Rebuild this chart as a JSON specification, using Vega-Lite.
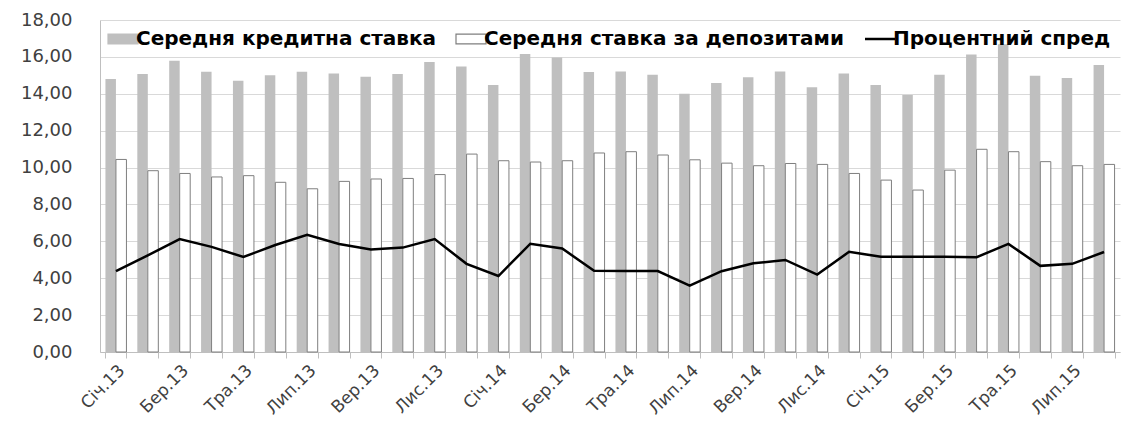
{
  "$schema": "https://vega.github.io/schema/vega-lite/v6.json",
  "width": 1020,
  "height": 332,
  "autosize": {"type": "none"},
  "padding": {"left": 100, "top": 20, "right": 16, "bottom": 74},
  "background": "white",
  "config": {
    "view": {"stroke": null},
    "font": "DejaVu Sans",
    "locale": {"number": {"decimal": ",", "thousands": " ", "grouping": [3], "currency": ["", ""]}}
  },
  "data": {"values": [
      {"month": "Січ.13", "series": "Середня кредитна ставка", "value": 14.8},
      {"month": "Січ.13", "series": "Середня ставка за депозитами", "value": 10.44},
      {"month": "Січ.13", "series": "Процентний спред", "value": 4.38},
      {"month": "Лют.13", "series": "Середня кредитна ставка", "value": 15.07},
      {"month": "Лют.13", "series": "Середня ставка за депозитами", "value": 9.83},
      {"month": "Лют.13", "series": "Процентний спред", "value": 5.24},
      {"month": "Бер.13", "series": "Середня кредитна ставка", "value": 15.79},
      {"month": "Бер.13", "series": "Середня ставка за депозитами", "value": 9.68},
      {"month": "Бер.13", "series": "Процентний спред", "value": 6.12},
      {"month": "Кві.13", "series": "Середня кредитна ставка", "value": 15.19},
      {"month": "Кві.13", "series": "Середня ставка за депозитами", "value": 9.49},
      {"month": "Кві.13", "series": "Процентний спред", "value": 5.7},
      {"month": "Тра.13", "series": "Середня кредитна ставка", "value": 14.7},
      {"month": "Тра.13", "series": "Середня ставка за депозитами", "value": 9.56},
      {"month": "Тра.13", "series": "Процентний спред", "value": 5.15},
      {"month": "Чер.13", "series": "Середня кредитна ставка", "value": 15.01},
      {"month": "Чер.13", "series": "Середня ставка за депозитами", "value": 9.2},
      {"month": "Чер.13", "series": "Процентний спред", "value": 5.8},
      {"month": "Лип.13", "series": "Середня кредитна ставка", "value": 15.19},
      {"month": "Лип.13", "series": "Середня ставка за депозитами", "value": 8.85},
      {"month": "Лип.13", "series": "Процентний спред", "value": 6.35},
      {"month": "Сер.13", "series": "Середня кредитна ставка", "value": 15.1},
      {"month": "Сер.13", "series": "Середня ставка за депозитами", "value": 9.25},
      {"month": "Сер.13", "series": "Процентний спред", "value": 5.86},
      {"month": "Вер.13", "series": "Середня кредитна ставка", "value": 14.92},
      {"month": "Вер.13", "series": "Середня ставка за депозитами", "value": 9.38},
      {"month": "Вер.13", "series": "Процентний спред", "value": 5.56},
      {"month": "Жов.13", "series": "Середня кредитна ставка", "value": 15.07},
      {"month": "Жов.13", "series": "Середня ставка за депозитами", "value": 9.41},
      {"month": "Жов.13", "series": "Процентний спред", "value": 5.66},
      {"month": "Лис.13", "series": "Середня кредитна ставка", "value": 15.72},
      {"month": "Лис.13", "series": "Середня ставка за депозитами", "value": 9.62},
      {"month": "Лис.13", "series": "Процентний спред", "value": 6.12},
      {"month": "Гру.13", "series": "Середня кредитна ставка", "value": 15.48},
      {"month": "Гру.13", "series": "Середня ставка за депозитами", "value": 10.73},
      {"month": "Гру.13", "series": "Процентний спред", "value": 4.78},
      {"month": "Січ.14", "series": "Середня кредитна ставка", "value": 14.47},
      {"month": "Січ.14", "series": "Середня ставка за депозитами", "value": 10.37},
      {"month": "Січ.14", "series": "Процентний спред", "value": 4.12},
      {"month": "Лют.14", "series": "Середня кредитна ставка", "value": 16.15},
      {"month": "Лют.14", "series": "Середня ставка за депозитами", "value": 10.3},
      {"month": "Лют.14", "series": "Процентний спред", "value": 5.87},
      {"month": "Бер.14", "series": "Середня кредитна ставка", "value": 15.97},
      {"month": "Бер.14", "series": "Середня ставка за депозитами", "value": 10.37},
      {"month": "Бер.14", "series": "Процентний спред", "value": 5.61},
      {"month": "Кві.14", "series": "Середня кредитна ставка", "value": 15.18},
      {"month": "Кві.14", "series": "Середня ставка за депозитами", "value": 10.79},
      {"month": "Кві.14", "series": "Процентний спред", "value": 4.41},
      {"month": "Тра.14", "series": "Середня кредитна ставка", "value": 15.21},
      {"month": "Тра.14", "series": "Середня ставка за депозитами", "value": 10.86},
      {"month": "Тра.14", "series": "Процентний спред", "value": 4.39},
      {"month": "Чер.14", "series": "Середня кредитна ставка", "value": 15.03},
      {"month": "Чер.14", "series": "Середня ставка за депозитами", "value": 10.68},
      {"month": "Чер.14", "series": "Процентний спред", "value": 4.39},
      {"month": "Лип.14", "series": "Середня кредитна ставка", "value": 14.0},
      {"month": "Лип.14", "series": "Середня ставка за депозитами", "value": 10.42},
      {"month": "Лип.14", "series": "Процентний спред", "value": 3.6},
      {"month": "Сер.14", "series": "Середня кредитна ставка", "value": 14.58},
      {"month": "Сер.14", "series": "Середня ставка за депозитами", "value": 10.24},
      {"month": "Сер.14", "series": "Процентний спред", "value": 4.38},
      {"month": "Вер.14", "series": "Середня кредитна ставка", "value": 14.89},
      {"month": "Вер.14", "series": "Середня ставка за депозитами", "value": 10.1},
      {"month": "Вер.14", "series": "Процентний спред", "value": 4.81},
      {"month": "Жов.14", "series": "Середня кредитна ставка", "value": 15.21},
      {"month": "Жов.14", "series": "Середня ставка за депозитами", "value": 10.22},
      {"month": "Жов.14", "series": "Процентний спред", "value": 4.99},
      {"month": "Лис.14", "series": "Середня кредитна ставка", "value": 14.36},
      {"month": "Лис.14", "series": "Середня ставка за депозитами", "value": 10.17},
      {"month": "Лис.14", "series": "Процентний спред", "value": 4.2},
      {"month": "Гру.14", "series": "Середня кредитна ставка", "value": 15.1},
      {"month": "Гру.14", "series": "Середня ставка за депозитами", "value": 9.68},
      {"month": "Гру.14", "series": "Процентний спред", "value": 5.43},
      {"month": "Січ.15", "series": "Середня кредитна ставка", "value": 14.47},
      {"month": "Січ.15", "series": "Середня ставка за депозитами", "value": 9.32},
      {"month": "Січ.15", "series": "Процентний спред", "value": 5.16},
      {"month": "Лют.15", "series": "Середня кредитна ставка", "value": 13.93},
      {"month": "Лют.15", "series": "Середня ставка за депозитами", "value": 8.78},
      {"month": "Лют.15", "series": "Процентний спред", "value": 5.16},
      {"month": "Бер.15", "series": "Середня кредитна ставка", "value": 15.03},
      {"month": "Бер.15", "series": "Середня ставка за депозитами", "value": 9.86},
      {"month": "Бер.15", "series": "Процентний спред", "value": 5.17},
      {"month": "Кві.15", "series": "Середня кредитна ставка", "value": 16.13},
      {"month": "Кві.15", "series": "Середня ставка за депозитами", "value": 10.99},
      {"month": "Кві.15", "series": "Процентний спред", "value": 5.14},
      {"month": "Тра.15", "series": "Середня кредитна ставка", "value": 16.69},
      {"month": "Тра.15", "series": "Середня ставка за депозитами", "value": 10.86},
      {"month": "Тра.15", "series": "Процентний спред", "value": 5.86},
      {"month": "Чер.15", "series": "Середня кредитна ставка", "value": 14.98},
      {"month": "Чер.15", "series": "Середня ставка за депозитами", "value": 10.32},
      {"month": "Чер.15", "series": "Процентний спред", "value": 4.67},
      {"month": "Лип.15", "series": "Середня кредитна ставка", "value": 14.85},
      {"month": "Лип.15", "series": "Середня ставка за депозитами", "value": 10.1},
      {"month": "Лип.15", "series": "Процентний спред", "value": 4.78},
      {"month": "Сер.15", "series": "Середня кредитна ставка", "value": 15.56},
      {"month": "Сер.15", "series": "Середня ставка за депозитами", "value": 10.17},
      {"month": "Сер.15", "series": "Процентний спред", "value": 5.42}
  ]},
  "encoding": {
    "x": {
      "field": "month",
      "type": "ordinal",
      "sort": null,
      "scale": {"paddingInner": 0.34, "paddingOuter": 0.17},
      "axis": {
        "title": null,
        "labelAngle": -45,
        "labelOverlap": false,
        "labelExpr": "indexof('СічБерТраЛипВерЛис', substring(datum.label, 0, 3)) >= 0 ? datum.label : ''",
        "tickBand": "extent",
        "tickSize": 6,
        "tickColor": "#bfbfbf",
        "domainColor": "#bfbfbf",
        "labelFont": "DejaVu Sans",
        "labelFontSize": 17,
        "labelColor": "#404040",
        "labelPadding": 4,
        "grid": false
      }
    },
    "y": {
      "field": "value",
      "type": "quantitative",
      "scale": {"domain": [0, 18], "nice": false},
      "axis": {
        "title": null,
        "values": [0, 2, 4, 6, 8, 10, 12, 14, 16, 18],
        "format": ".2f",
        "ticks": false,
        "labelPadding": 28,
        "labelFont": "DejaVu Sans",
        "labelFontSize": 18,
        "labelColor": "#404040",
        "domainColor": "#bfbfbf",
        "gridColor": "#d9d9d9",
        "grid": true
      }
    },
    "color": {
      "field": "series",
      "type": "nominal",
      "scale": {
        "domain": ["Середня кредитна ставка", "Середня ставка за депозитами", "Процентний спред"],
        "range": ["#bfbfbf", "#7f7f7f", "#000000"]
      },
      "legend": {
        "orient": "top-right",
        "offset": 9,
        "padding": 0,
        "direction": "horizontal",
        "title": null,
        "labelFont": "DejaVu Sans",
        "labelFontWeight": "bold",
        "labelFontSize": 20,
        "labelColor": "#000000",
        "labelLimit": 600,
        "symbolSize": 900,
        "columnPadding": 16,
        "labelOffset": 3,
        "encode": {
          "symbols": {
            "update": {
              "shape": {"signal": "datum.value === 'Процентний спред' ? 'M-1,0H1' : 'M-1,-0.33H1V0.33H-1Z'"},
              "fillOpacity": {"signal": "datum.value === 'Середня ставка за депозитами' ? 0 : 1"},
              "strokeWidth": {"signal": "datum.value === 'Процентний спред' ? 2.5 : 1.2"}
            }
          }
        }
      }
    }
  },
  "layer": [
    {
      "transform": [{"filter": "datum.series == 'Середня кредитна ставка'"}],
      "mark": {"type": "bar", "width": 10.5, "xOffset": -5.25}
    },
    {
      "transform": [{"filter": "datum.series == 'Середня ставка за депозитами'"}],
      "mark": {"type": "bar", "width": 10.5, "xOffset": 5.25, "stroke": "#7f7f7f", "strokeWidth": 1},
      "encoding": {"color": {"value": "#ffffff"}}
    },
    {
      "transform": [{"filter": "datum.series == 'Процентний спред'"}],
      "mark": {"type": "line", "strokeWidth": 2.5}
    }
  ]
}
